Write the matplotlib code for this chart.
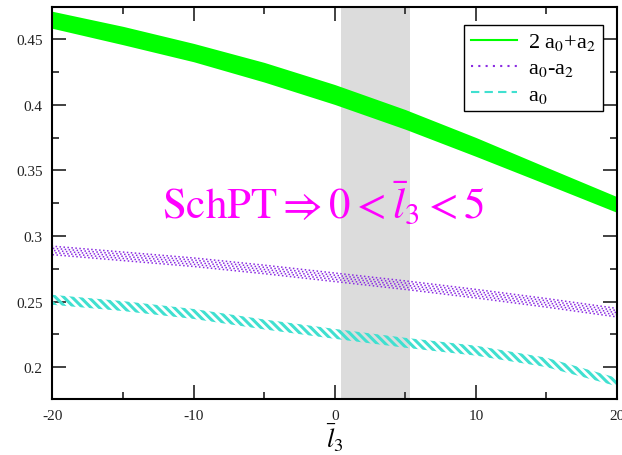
import numpy as np
import matplotlib
matplotlib.use("Agg")
import matplotlib.pyplot as plt
from matplotlib.ticker import MultipleLocator, FormatStrFormatter

plt.rcParams['font.family'] = ['Liberation Serif', 'DejaVu Serif']
plt.rcParams['mathtext.fontset'] = 'stix'
plt.rcParams['hatch.linewidth'] = 2.2
plt.rcParams['axes.unicode_minus'] = False

# band centres and half widths
l3 = [-20, -15, -10, -5, 0, 5, 10, 15, 20]
green_mid = [0.465, 0.453, 0.440, 0.425, 0.408, 0.389, 0.368, 0.346, 0.324]
green_hw = [0.0065, 0.007, 0.007, 0.0075, 0.0076, 0.0075, 0.0072, 0.0065, 0.006]
purple_mid = [0.289, 0.2845, 0.280, 0.2745, 0.2685, 0.2625, 0.256, 0.249, 0.2415]
purple_hw = [0.0038, 0.0038, 0.0038, 0.0038, 0.0038, 0.0038, 0.0038, 0.0038, 0.0038]
cyan_mid = [0.2513, 0.2465, 0.2405, 0.2325, 0.2253, 0.2185, 0.2125, 0.2035, 0.1885]
cyan_hw = [0.0038, 0.0038, 0.0038, 0.0038, 0.0038, 0.0038, 0.0038, 0.0036, 0.0032]
schpt_lo, schpt_hi = 0.47, 5.3

x = np.array(l3)

fig = plt.figure(figsize=(6.22, 4.56), dpi=100)
ax = fig.add_axes([0.0844, 0.1228, 0.9076, 0.8597])

ax.axvspan(schpt_lo, schpt_hi, color='#dcdcdc', lw=0, zorder=0)

g = np.array(green_mid); gw = np.array(green_hw)
ax.fill_between(x, g - gw, g + gw, color='#00ff00', lw=0, zorder=2)

# purple band: a stack of dotted curves across the error range
p = np.array(purple_mid); pw = np.array(purple_hw)
for k, t in enumerate(np.linspace(-0.85, 0.85, 5)):
    ax.plot(x, p + t * pw, color='#8a2be2', lw=1.1, ls=(k * 0.8, (1, 1.6)),
            zorder=2)

c = np.array(cyan_mid); cw = np.array(cyan_hw)
ax.fill_between(x, c - cw, c + cw, facecolor='none', edgecolor='#40e0d0',
                hatch='\\\\\\\\', lw=0, zorder=2)

# legend handles
ax.plot([], [], color='#00ff00', lw=1.5, label=r'2 a$_0$+a$_2$')
ax.plot([], [], color='#8a2be2', lw=1.5, ls=(0, (1, 2.5)), label=r'a$_0$-a$_2$')
ax.plot([], [], color='#40e0d0', lw=1.5, ls=(0, (4, 2.5)), label=r'a$_0$')
leg = ax.legend(loc='upper right', bbox_to_anchor=(0.975, 0.955), fontsize=16,
                frameon=True, fancybox=False, edgecolor='black', framealpha=1,
                handlelength=2.1, handletextpad=0.5, labelspacing=0.25,
                borderpad=0.3, borderaxespad=0)
leg.get_frame().set_linewidth(1.0)

ax.text(0.48, 0.50, r'$\mathrm{SchPT} \Rightarrow 0 < \bar{l}_3 < 5$',
        transform=ax.transAxes, color='#ff00ff', fontsize=31,
        ha='center', va='center')

ax.set_xlim(-20, 20)
ax.set_ylim(0.1756, 0.4748)
ax.xaxis.set_major_locator(MultipleLocator(10))
ax.xaxis.set_minor_locator(MultipleLocator(5))
ax.yaxis.set_major_locator(MultipleLocator(0.05))
ax.yaxis.set_minor_locator(MultipleLocator(0.025))
ax.xaxis.set_major_formatter(FormatStrFormatter('%g'))
ax.yaxis.set_major_formatter(FormatStrFormatter('%g'))
ax.tick_params(which='both', direction='in', top=True, right=True,
               width=1.3, color='#333333', labelsize=11, labelcolor='#222222')
ax.tick_params(which='major', length=10, pad=7)
ax.tick_params(which='minor', length=5)
for s in ax.spines.values():
    s.set_linewidth(1.5)

ax.set_xlabel(r'$\bar{l}_3$', fontsize=19, labelpad=0)

fig.savefig('out.png', dpi=100)
